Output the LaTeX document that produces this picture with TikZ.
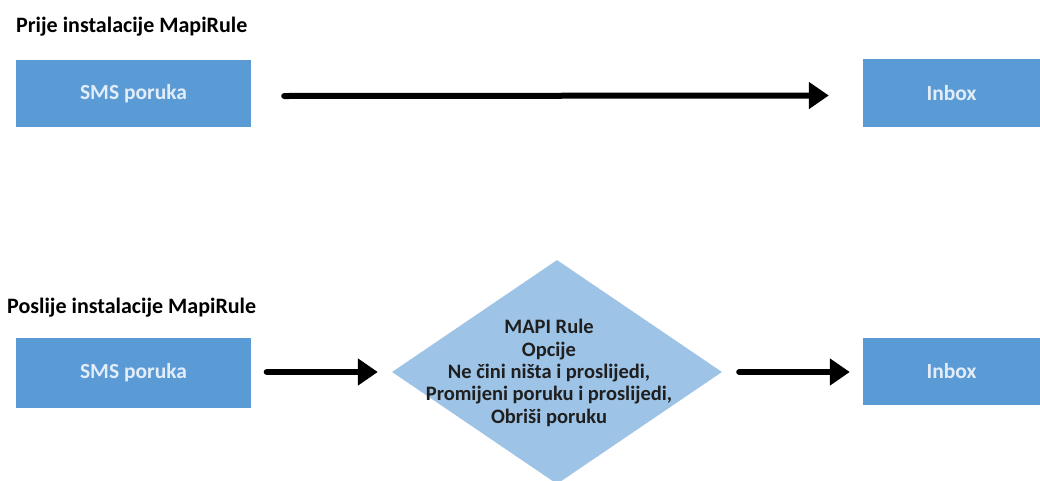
\documentclass[tikz,border=0pt]{standalone}
\usepackage{fontspec}
\setmainfont{Carlito}
\usetikzlibrary{arrows.meta,shapes.geometric}
\definecolor{boxblue}{HTML}{5B9BD5}
\definecolor{diablue}{HTML}{9DC3E6}
\definecolor{boxtext}{HTML}{E3EDF7}
\tikzset{
  bluebox/.style={rectangle, fill=boxblue, draw=none, inner sep=0pt,
    font=\fontsize{21.5}{25}\selectfont\bfseries, text=boxtext},
  heading/.style={anchor=west, inner sep=0pt, font=\fontsize{22}{26}\selectfont\bfseries, text=black},
  flowarrow/.style={line width=6pt, line cap=round, -{Triangle[length=20pt,width=26pt]}},
}
\begin{document}
\begin{tikzpicture}[x=1pt,y=-1pt]
\useasboundingbox (0,0) rectangle (1040,480);

% --- before installation ---
\node[heading] (t1) at (16,27) {Prije instalacije MapiRule};
\node[bluebox, minimum width=235pt, minimum height=67pt] (sms1) at (133.5,93.5) {SMS poruka};
\node[bluebox, minimum width=177pt, minimum height=68pt] (inbox1) at (951.5,93) {Inbox};
\draw[flowarrow] ([xshift=33pt,yshift=-2.5pt]sms1.east) -- ([xshift=-34pt,yshift=-2.5pt]inbox1.west);

% --- after installation ---
\node[heading] (t2) at (7,308) {Poslije instalacije MapiRule};
\node[bluebox, minimum width=235pt, minimum height=70pt] (sms2) at (133.5,373) {SMS poruka};
\node[bluebox, minimum width=177pt, minimum height=67pt] (inbox2) at (951.5,371.5) {Inbox};
\node[diamond, fill=diablue, draw=none, inner sep=0pt, minimum width=330pt, minimum height=224pt] (rule) at (557,372) {};
\node[align=center, inner sep=0pt, font=\fontsize{20.5}{22.3}\selectfont\bfseries, text=black!88] (ruletext) at (549,373)
  {MAPI Rule\\Opcije\\Ne čini ništa i proslijedi,\\Promijeni poruku i proslijedi,\\Obriši poruku};
\draw[flowarrow] ([xshift=15.5pt]sms2.east |- rule.west) -- ([xshift=-14pt]rule.west);
\draw[flowarrow] ([xshift=17pt]rule.east) -- ([xshift=-13pt]inbox2.west |- rule.east);
\end{tikzpicture}
\end{document}
